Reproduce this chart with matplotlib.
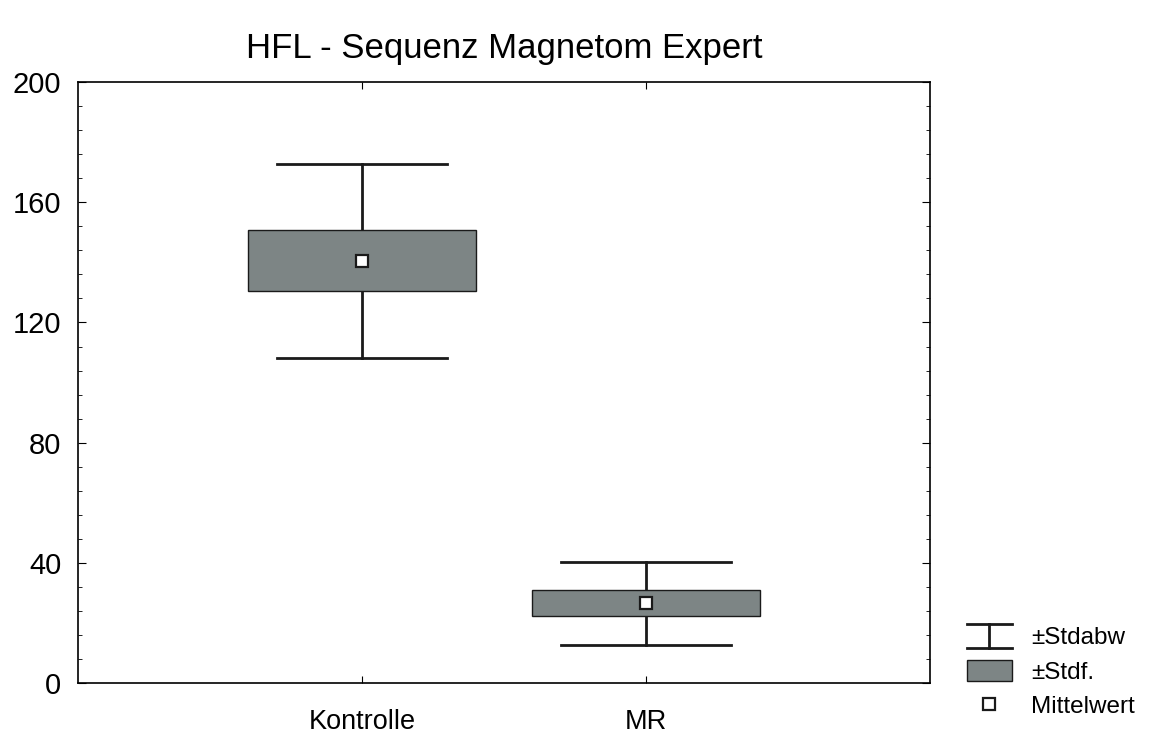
import matplotlib.pyplot as plt
from matplotlib.legend_handler import HandlerBase
from matplotlib.lines import Line2D
from matplotlib.patches import Rectangle

plt.rcParams['font.family'] = ['Liberation Sans', 'DejaVu Sans']

# Daten
gruppen = ['Kontrolle', 'MR']
mittelwert = [140.4, 26.6]
stdf_unten = [130.4, 22.3]
stdf_oben = [150.7, 30.9]
stdabw_unten = [108.2, 12.6]
stdabw_oben = [172.7, 40.3]

box_farbe = '#7d8585'
linien_farbe = '#1a1a1a'

fig = plt.figure(figsize=(11.54, 7.40), dpi=100)
ax = fig.add_axes([0.0676, 0.077, 0.7384, 0.812])

pos = [1, 2]
for i, x in enumerate(pos):
    # Whisker (±Stdabw)
    ax.plot([x, x], [stdabw_unten[i], stdf_unten[i]], color=linien_farbe, lw=2)
    ax.plot([x, x], [stdf_oben[i], stdabw_oben[i]], color=linien_farbe, lw=2)
    ax.plot([x - 0.3, x + 0.3], [stdabw_unten[i]] * 2, color=linien_farbe, lw=2)
    ax.plot([x - 0.3, x + 0.3], [stdabw_oben[i]] * 2, color=linien_farbe, lw=2)
    # Box (±Stdf.)
    ax.add_patch(Rectangle((x - 0.4, stdf_unten[i]), 0.8, stdf_oben[i] - stdf_unten[i],
                           facecolor=box_farbe, edgecolor=linien_farbe, lw=1.0, zorder=2))
    # Mittelwert
    ax.plot(x, mittelwert[i], marker='s', ms=9, mfc='white', mec=linien_farbe, mew=1.6, zorder=3)

ax.set_xlim(0, 3)
ax.set_ylim(0, 200)
ax.set_xticks(pos)
ax.set_xticklabels(gruppen)
ax.set_yticks([0, 40, 80, 120, 160, 200])
ax.set_yticks(range(0, 201, 8), minor=True)
ax.tick_params(axis='both', which='both', direction='in', top=True, right=True)
ax.tick_params(axis='y', which='major', length=6, labelsize=21, pad=12)
ax.tick_params(axis='y', which='minor', length=3)
ax.tick_params(axis='x', which='minor', length=0)
ax.tick_params(axis='x', which='major', length=5, labelsize=19.5, pad=19)
for s in ax.spines.values():
    s.set_linewidth(1.2)

fig.suptitle('HFL - Sequenz Magnetom Expert', fontsize=25, x=0.437, y=0.957)


class StdabwHandler(HandlerBase):
    def create_artists(self, legend, orig_handle, xdescent, ydescent, width, height, fontsize, trans):
        x0, x1 = -xdescent, -xdescent + width
        y0, y1 = -ydescent - 0.05 * height, -ydescent + 1.05 * height
        xm = (x0 + x1) / 2
        linien = [Line2D([x0, x1], [y0, y0]), Line2D([x0, x1], [y1, y1]), Line2D([xm, xm], [y0, y1])]
        for l in linien:
            l.set_color(linien_farbe)
            l.set_linewidth(2)
            l.set_transform(trans)
        return linien


h_std = Line2D([], [])
h_box = Rectangle((0, 0), 1, 1, facecolor=box_farbe, edgecolor=linien_farbe, lw=1.0)
h_mw = Line2D([], [], ls='none', marker='s', ms=8, mfc='white', mec=linien_farbe, mew=1.6)
fig.legend([h_std, h_box, h_mw], ['±Stdabw', '±Stdf.', 'Mittelwert'],
           handler_map={h_std: StdabwHandler()},
           loc='lower left', bbox_to_anchor=(0.819, 0.0), frameon=False, fontsize=17.5,
           handlelength=1.85, handleheight=1.0, labelspacing=0.42, handletextpad=0.8)

fig.savefig('out.png', dpi=100)
